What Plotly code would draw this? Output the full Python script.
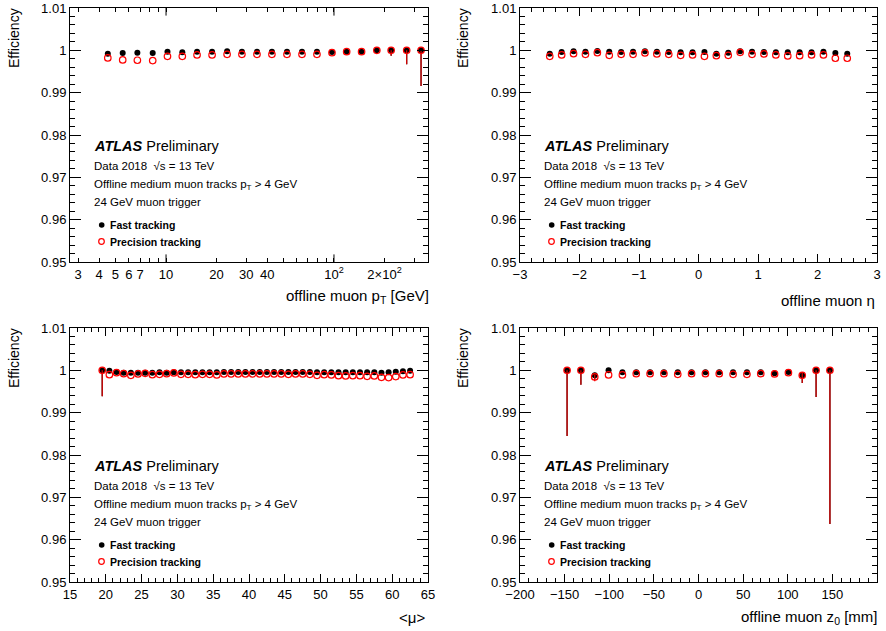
import math
import plotly.graph_objects as go

W, H = 886, 631

# ---------------- data ----------------
# Panel 1: offline muon pT [GeV]
pt_x = [4.5, 5.52, 6.75, 8.33, 10.2, 12.5, 15.3, 18.8, 23.1, 28.3, 34.8, 42.7,
        52.5, 64.5, 79.2, 97.3, 119, 146, 180, 219, 271, 330]
pt_fast = [0.99922, 0.99938, 0.99945, 0.99938, 0.99969, 0.99953, 0.99969, 0.99969,
           0.99977, 0.99969, 0.99969, 0.99969, 0.99969, 0.99969, 0.99969, 0.99961,
           0.99969, 0.99969, 1.0, 1.0, 1.0, 1.0]
pt_prec = [0.99820, 0.99773, 0.99766, 0.99758, 0.99859, 0.99859, 0.99891, 0.99891,
           0.99906, 0.99906, 0.99906, 0.99906, 0.99906, 0.99906, 0.99906, 0.99945,
           0.99969, 0.99969, 1.0, 1.0, 1.0, 1.0]
pt_err_lo = [0, 0, 0, 0, 0, 0, 0, 0, 0, 0, 0, 0, 0, 0, 0, 0, 0, 0, 0, 0.0013, 0.0033, 0.0084]
pt_err_hi = [0] * 22

# Panel 2: offline muon eta
eta_x = [-2.5, -2.3, -2.1, -1.9, -1.7, -1.5, -1.3, -1.1, -0.9, -0.7, -0.5, -0.3, -0.1,
         0.1, 0.3, 0.5, 0.7, 0.9, 1.1, 1.3, 1.5, 1.7, 1.9, 2.1, 2.3, 2.5]
eta_fast = [0.99922, 0.99961, 0.99977, 0.99969, 0.99984, 0.99969, 0.99961, 0.99969,
            0.99977, 0.99969, 0.99961, 0.99953, 0.99953, 0.99961, 0.99922, 0.99945,
            0.99977, 0.99969, 0.99961, 0.99953, 0.99953, 0.99953, 0.99953, 0.99969,
            0.99938, 0.99922]
eta_prec = [0.99859, 0.99891, 0.99922, 0.99906, 0.99945, 0.99883, 0.99906, 0.99906,
            0.99938, 0.99914, 0.99906, 0.99883, 0.99891, 0.99859, 0.99875, 0.99883,
            0.99953, 0.99906, 0.99914, 0.99891, 0.99867, 0.99875, 0.99891, 0.99891,
            0.99813, 0.99813]

# Panel 3: <mu>
mu_x = [19.5, 20.5, 21.5, 22.5, 23.5, 24.5, 25.5, 26.5, 27.5, 28.5, 29.5, 30.5, 31.5,
        32.5, 33.5, 34.5, 35.5, 36.5, 37.5, 38.5, 39.5, 40.5, 41.5, 42.5, 43.5, 44.5,
        45.5, 46.5, 47.5, 48.5, 49.5, 50.5, 51.5, 52.5, 53.5, 54.5, 55.5, 56.5, 57.5,
        58.5, 59.5, 60.5, 61.5, 62.5]
mu_fast = [1.0, 0.99992, 0.99961, 0.99945, 0.99945, 0.99945, 0.99945, 0.99945, 0.99953,
           0.99945, 0.99953, 0.99953, 0.99953, 0.99953, 0.99953, 0.99953, 0.99953,
           0.99961, 0.99961, 0.99961, 0.99961, 0.99961, 0.99961, 0.99961, 0.99961,
           0.99961, 0.99961, 0.99961, 0.99961, 0.99961, 0.99953, 0.99953, 0.99953,
           0.99953, 0.99953, 0.99953, 0.99953, 0.99953, 0.99953, 0.99945, 0.99953,
           0.99969, 0.99977, 0.99992]
mu_prec = [1.0, 0.99898, 0.99945, 0.99922, 0.99883, 0.99914, 0.99930, 0.99898, 0.99906,
           0.99922, 0.99938, 0.99906, 0.99906, 0.99898, 0.99906, 0.99906, 0.99891,
           0.99914, 0.99914, 0.99914, 0.99914, 0.99914, 0.99914, 0.99914, 0.99914,
           0.99914, 0.99906, 0.99914, 0.99914, 0.99906, 0.99883, 0.99898, 0.99891,
           0.99875, 0.99867, 0.99875, 0.99875, 0.99859, 0.99867, 0.99836, 0.99828,
           0.99852, 0.99891, 0.99898]
mu_err_lo = [0.0061] + [0] * 43
mu_err_hi = [0] * 44

# Panel 4: offline muon z0 [mm]
z0_x = [-147.25, -131.75, -116.25, -100.75, -85.25, -69.75, -54.25, -38.75, -23.25,
        -7.75, 7.75, 23.25, 38.75, 54.25, 69.75, 85.25, 100.75, 116.25, 131.75, 147.25]
z0_fast = [1.0, 1.0, 0.99883, 1.0, 0.99953, 0.99953, 0.99953, 0.99953, 0.99953, 0.99953,
           0.99953, 0.99953, 0.99953, 0.99953, 0.99953, 0.99930, 0.99961, 0.99883,
           1.0, 1.0]
z0_prec = [1.0, 1.0, 0.99844, 0.99891, 0.99891, 0.99922, 0.99922, 0.99922, 0.99906,
           0.99922, 0.99922, 0.99922, 0.99906, 0.99906, 0.99922, 0.99914, 0.99945,
           0.99883, 1.0, 1.0]
z0_err_lo = [0.0155, 0.0034, 0.0010, 0, 0, 0, 0, 0, 0, 0, 0, 0, 0, 0, 0, 0, 0, 0.0018, 0.0063, 0.0363]
z0_err_hi = [0, 0, 0.0006, 0, 0, 0, 0, 0, 0, 0, 0, 0, 0, 0, 0, 0, 0, 0.0007, 0, 0]

eff_ticks = [0.95, 0.96, 0.97, 0.98, 0.99, 1.0, 1.01]
eff_labels = ["0.95", "0.96", "0.97", "0.98", "0.99", "1", "1.01"]
pt_ticks = [3, 4, 5, 6, 7, 10, 20, 30, 40, 100, 200]
pt_labels = ["3", "4", "5", "6", "7", "10", "20", "30", "40", "10<sup>2</sup>", "2×10<sup>2</sup>"]
pt_minor = [8, 9, 50, 60, 70, 80, 90, 300]

# ---------------- figure ----------------
FONT = "Liberation Sans, Arial, Helvetica, sans-serif"
fig = go.Figure()

panels = [
    ("x", "y", pt_x, pt_fast, pt_prec, pt_err_lo, pt_err_hi),
    ("x2", "y2", eta_x, eta_fast, eta_prec, None, None),
    ("x3", "y3", mu_x, mu_fast, mu_prec, mu_err_lo, mu_err_hi),
    ("x4", "y4", z0_x, z0_fast, z0_prec, z0_err_lo, z0_err_hi),
]

for xa, ya, xs, fast, prec, elo, ehi in panels:
    err = None
    if elo is not None:
        err = dict(type="data", symmetric=False, array=ehi, arrayminus=elo,
                   width=0, thickness=1.2, color="black")
    fig.add_trace(go.Scatter(x=xs, y=fast, mode="markers", xaxis=xa, yaxis=ya,
                             marker=dict(symbol="circle", size=6, color="black"),
                             error_y=err, showlegend=False, name="Fast tracking"))
    err2 = None
    if elo is not None:
        err2 = dict(type="data", symmetric=False, array=ehi, arrayminus=elo,
                    width=0, thickness=1.2, color="#e00000")
    fig.add_trace(go.Scatter(x=xs, y=prec, mode="markers", xaxis=xa, yaxis=ya,
                             marker=dict(symbol="circle-open", size=6.5, color="red",
                                         line=dict(width=1.2, color="red")),
                             error_y=err2, showlegend=False, name="Precision tracking"))

L = [70 / W, 428 / W]
R = [520 / W, 877 / W]
T = [1 - 262 / H, 1 - 8 / H]
B = [1 - 582 / H, 1 - 328 / H]

XT = 7.6   # x-axis tick length
YT = 10.7  # y-axis tick length

def yaxis(dom, anchor):
    return dict(domain=dom, anchor=anchor, range=[0.95, 1.01], tickmode="array",
                tickvals=eff_ticks, ticktext=eff_labels, ticks="inside", ticklen=YT,
                tickwidth=1, tickcolor="black", showline=True, linecolor="black",
                linewidth=1, mirror="allticks", showgrid=False, zeroline=False,
                automargin=False,
                tickfont=dict(size=13, family=FONT, color="black"),
                minor=dict(dtick=0.002, tick0=0.95, ticks="inside", ticklen=YT / 2,
                           tickcolor="black", tickwidth=1))

def xaxis_lin(dom, anchor, rng, dtick, mdtick):
    return dict(domain=dom, anchor=anchor, range=rng, dtick=dtick, tick0=0,
                ticks="inside", ticklen=XT, tickwidth=1, tickcolor="black",
                showline=True, linecolor="black", linewidth=1, mirror="allticks",
                showgrid=False, zeroline=False, automargin=False,
                tickfont=dict(size=13, family=FONT, color="black"),
                minor=dict(dtick=mdtick, ticks="inside", ticklen=XT / 2,
                           tickcolor="black", tickwidth=1))

fig.update_layout(
    width=W, height=H, margin=dict(l=0, r=0, t=0, b=0, autoexpand=False),
    paper_bgcolor="white", plot_bgcolor="white",
    font=dict(family=FONT, color="black"),
    xaxis=dict(domain=L, anchor="y", type="log",
               range=[math.log10(2.68), math.log10(363)],
               tickmode="array", tickvals=pt_ticks, ticktext=pt_labels,
               ticks="inside", ticklen=XT / 2, tickwidth=1, tickcolor="black",
               showline=True, linecolor="black", linewidth=1, mirror="allticks",
               showgrid=False, zeroline=False, automargin=False,
               tickfont=dict(size=13, family=FONT, color="black"),
               minor=dict(tickmode="array", tickvals=pt_minor, ticks="inside",
                          ticklen=XT / 2, tickcolor="black", tickwidth=1)),
    yaxis=yaxis(T, "x"),
    xaxis2=xaxis_lin(R, "y2", [-3, 3], 1, 0.2),
    yaxis2=yaxis(T, "x2"),
    xaxis3=xaxis_lin(L, "y3", [15, 65], 5, 1),
    yaxis3=yaxis(B, "x3"),
    xaxis4=xaxis_lin(R, "y4", [-200, 200], 50, 10),
    yaxis4=yaxis(B, "x4"),
)

# long decade ticks on the log axis
shapes = []
for v in [10, 100]:
    for y0, y1 in [(0, XT / 254), (1 - XT / 254, 1)]:
        shapes.append(dict(type="line", xref="x", yref="y domain", x0=v, x1=v,
                           y0=y0, y1=y1, line=dict(color="black", width=1)))

ann = []

def P(px, py):
    return px / W, 1 - py / H

titles = [
    (431, 297, "offline muon p<sub>T</sub> [GeV]"),
    (877, 300, "offline muon η"),
    (427, 617, "&lt;μ&gt;"),
    (879, 617, "offline muon z<sub>0</sub> [mm]"),
]
for px, py, t in titles:
    x, y = P(px, py)
    ann.append(dict(x=x, y=y, xref="paper", yref="paper", text=t, showarrow=False,
                    xanchor="right", yanchor="middle",
                    font=dict(size=15, family=FONT, color="black")))

for px, py in [(14, 6), (463, 6), (14, 326), (463, 326)]:
    x, y = P(px, py)
    ann.append(dict(x=x, y=y, xref="paper", yref="paper", text="Efficiency",
                    textangle=-90, showarrow=False, xanchor="center", yanchor="top",
                    font=dict(size=14, family=FONT, color="black")))

lines = [
    (92, 146, "<b><i>ATLAS</i></b> Preliminary", 14.5),
    (92, 166, "Data 2018  √s = 13 TeV", 11.5),
    (92, 184.5, "Offline medium muon tracks p<sub>T</sub> &gt; 4 GeV", 11.5),
    (92, 202, "24 GeV muon trigger", 11.5),
    (108, 225, "<b>Fast tracking</b>", 10.5),
    (108, 241.5, "<b>Precision tracking</b>", 10.5),
]
for dx, dy in [(0, 0), (450, 0), (0, 320), (450, 320)]:
    for px, py, t, s in lines:
        x, y = P(px + dx, py + dy)
        ann.append(dict(x=x, y=y, xref="paper", yref="paper", text=t, showarrow=False,
                        xanchor="left", yanchor="middle",
                        font=dict(size=s, family=FONT, color="black")))
    bx, by = P(101.7 + dx, 225 + dy)
    shapes.append(dict(type="circle", xref="paper", yref="paper", xsizemode="pixel",
                       ysizemode="pixel", xanchor=bx, yanchor=by, x0=-2.8, x1=2.8,
                       y0=-2.8, y1=2.8, fillcolor="black", line=dict(width=0)))
    rx, ry = P(101.5 + dx, 241.5 + dy)
    shapes.append(dict(type="circle", xref="paper", yref="paper", xsizemode="pixel",
                       ysizemode="pixel", xanchor=rx, yanchor=ry, x0=-2.8, x1=2.8,
                       y0=-2.8, y1=2.8, fillcolor="rgba(0,0,0,0)",
                       line=dict(width=1.2, color="red")))

fig.update_layout(annotations=ann, shapes=shapes)
fig.write_html("out.html", config={"displayModeBar": False},
               post_script="document.body.style.margin='0';document.body.style.overflow='hidden';")
